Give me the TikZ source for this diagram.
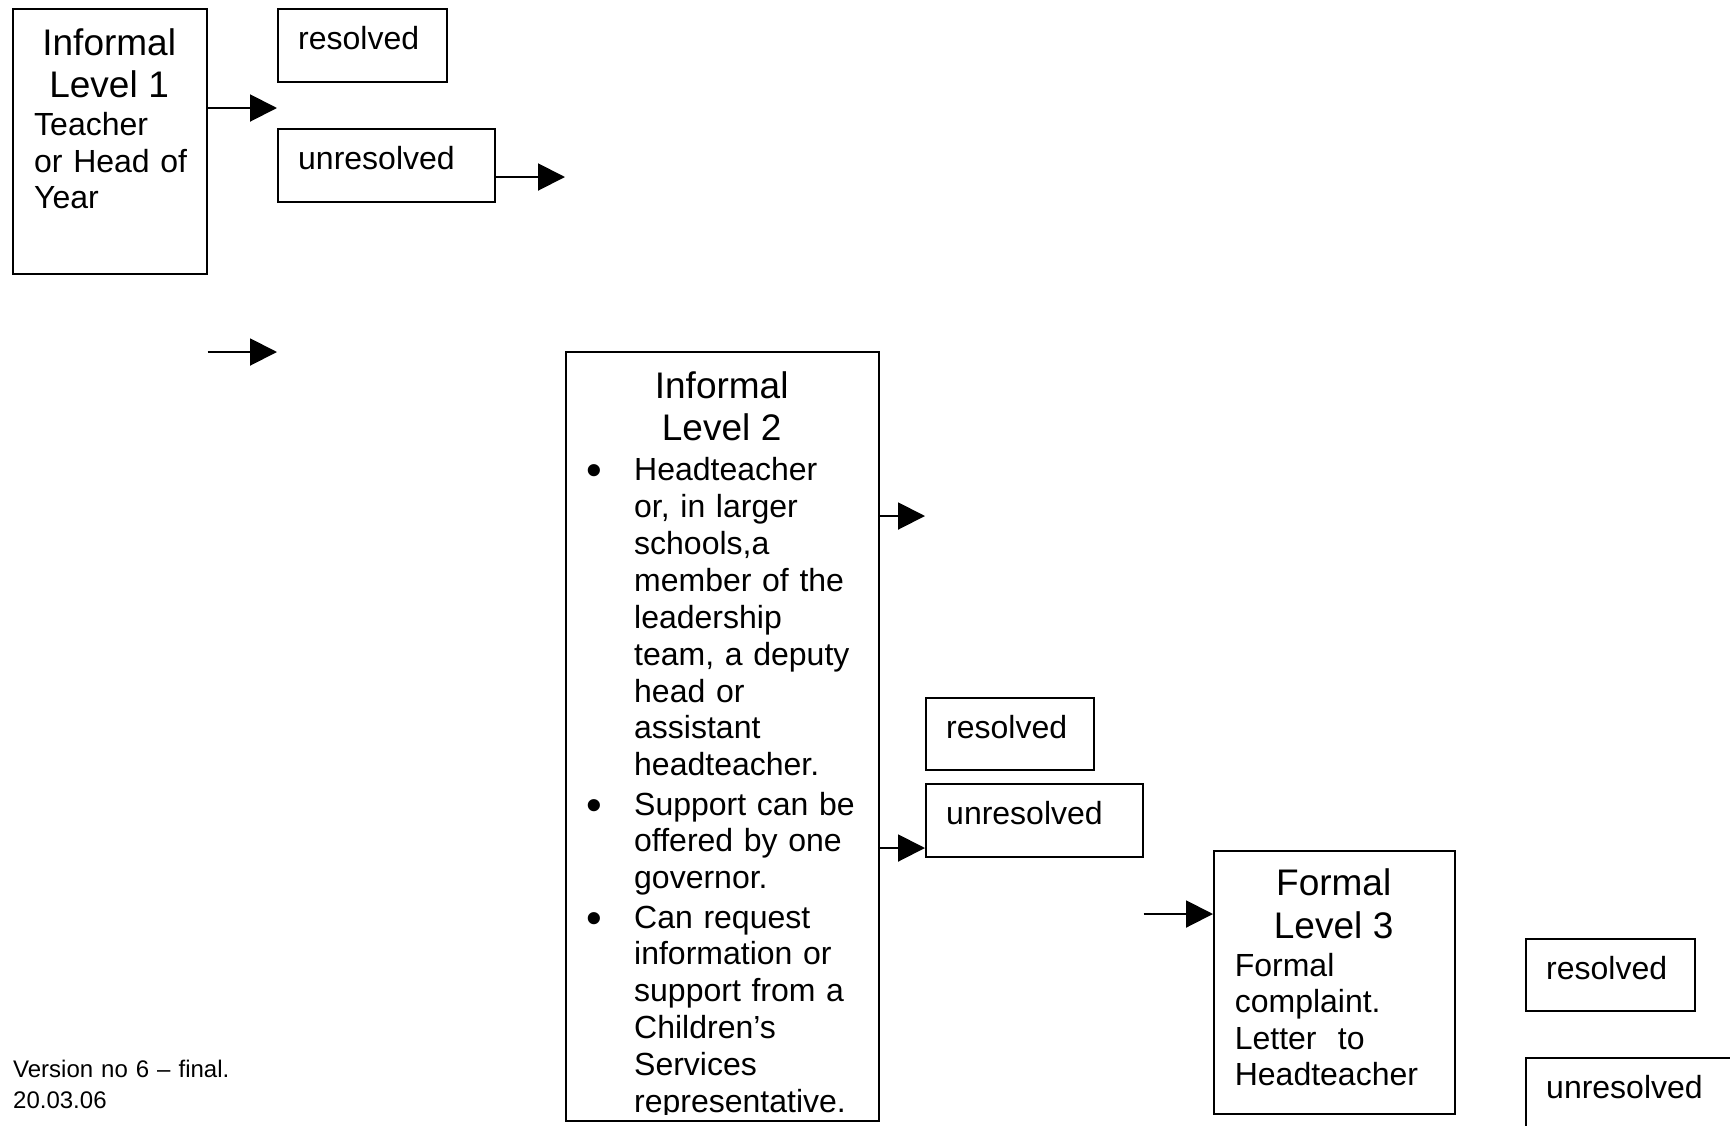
\documentclass[tikz,border=0pt]{standalone}
\usepackage{fontspec}
\setmainfont{Liberation Sans}
\usetikzlibrary{arrows.meta}
\newcommand\hdfont{\fontsize{37}{42.5}\selectfont}
\newcommand\bdfont{\fontsize{32}{36.6}\selectfont}
\newcommand\bul{\leavevmode\llap{\raisebox{-5pt}{\scalebox{1.4}{\textbullet}}\hspace{32pt}}}
\begin{document}
\begin{tikzpicture}[x=1pt,y=-1pt,
  box/.style={draw, line width=1.6pt, inner sep=0pt, anchor=north west},
  arr/.style={line width=2pt, -{Triangle[length=27pt,width=27pt]}},
  lbl/.style={inner sep=0pt, anchor=base west, font=\bdfont},
  mtext/.style={inner sep=0pt, anchor=base west, align=left, font=\bdfont}]
\clip (0,0) rectangle (1730,1125);
\fill[white] (0,0) rectangle (1730,1125);
% boxes
\node[box, minimum width=194pt, minimum height=265pt] (L1) at (12,8) {};
\node[box, minimum width=169pt, minimum height=73pt] (R1) at (277,8) {};
\node[box, minimum width=217pt, minimum height=73pt] (U1) at (277,128) {};
\node[box, minimum width=313pt, minimum height=769pt] (L2) at (565,351) {};
\node[box, minimum width=168pt, minimum height=72pt] (R2) at (925,697) {};
\node[box, minimum width=217pt, minimum height=73pt] (U2) at (925,783) {};
\node[box, minimum width=241pt, minimum height=263pt] (L3) at (1213,850) {};
\node[box, minimum width=169pt, minimum height=72pt] (R3) at (1525,938) {};
\node[box, minimum width=217pt, minimum height=73pt] (U3) at (1525,1057) {};
% box labels
\node[lbl] (R1t) at ([shift={(21,41)}]R1.north west) {resolved};
\node[lbl] (U1t) at ([shift={(21,41)}]U1.north west) {unresolved};
\node[lbl] (R2t) at ([shift={(21,41)}]R2.north west) {resolved};
\node[lbl] (U2t) at ([shift={(21,41)}]U2.north west) {unresolved};
\node[lbl] (R3t) at ([shift={(21,41)}]R3.north west) {resolved};
\node[lbl] (U3t) at ([shift={(21,41)}]U3.north west) {unresolved};
% level texts
\node[mtext, text width=194pt] (L1t) at (12,55)
  {{\hdfont\centering Informal\\Level 1\par}\vspace{1.5pt}\leftskip=22pt
  Teacher\\or Head of\\Year\par};
\begin{scope}
\clip (565,351) rectangle (878,1114);
\node[mtext, text width=313pt, font=\fontsize{32}{36.9}\selectfont] (L2t) at (565,398)
  {{\hdfont\centering Informal\\Level 2\par}\vspace{3.2pt}\leftskip=69pt
  \bul Headteacher\\or, in larger\\schools,a\\member of the\\leadership\\team, a deputy\\head or\\assistant\\headteacher.\\[2.3pt]
  \bul Support can be\\offered by one\\governor.\\[2.3pt]
  \bul Can request\\information or\\support from a\\Children’s\\Services\\representative.\par};
\end{scope}
\node[mtext, text width=241pt] (L3t) at (1213,895.5)
  {{\hdfont\centering Formal\\Level 3\par}\vspace{1.5pt}\leftskip=21.6pt
  Formal\\complaint.\\Letter\ \ to\\Headteacher\par};
\node[mtext, text width=260pt, font=\fontsize{24}{31}\selectfont] (ver) at (13,1077)
  {Version no 6 – final.\\20.03.06};
% arrows
\coordinate (a1) at (277,108);
\draw[arr] (L1.east |- a1) -- (a1);
\coordinate (a2) at (565,177);
\draw[arr] (U1.east |- a2) -- (a2);
\coordinate (a3) at (277,352);
\draw[arr] (L1.east |- a3) -- (a3);
\coordinate (a4) at (925,516);
\draw[arr] (L2.east |- a4) -- (a4);
\coordinate (a5) at (925,848);
\draw[arr] (L2.east |- a5) -- (U2.west |- a5);
\coordinate (a6) at (1141,914);
\draw[arr] (U2.east |- a6) -- (L3.west |- a6);
\end{tikzpicture}
\end{document}
